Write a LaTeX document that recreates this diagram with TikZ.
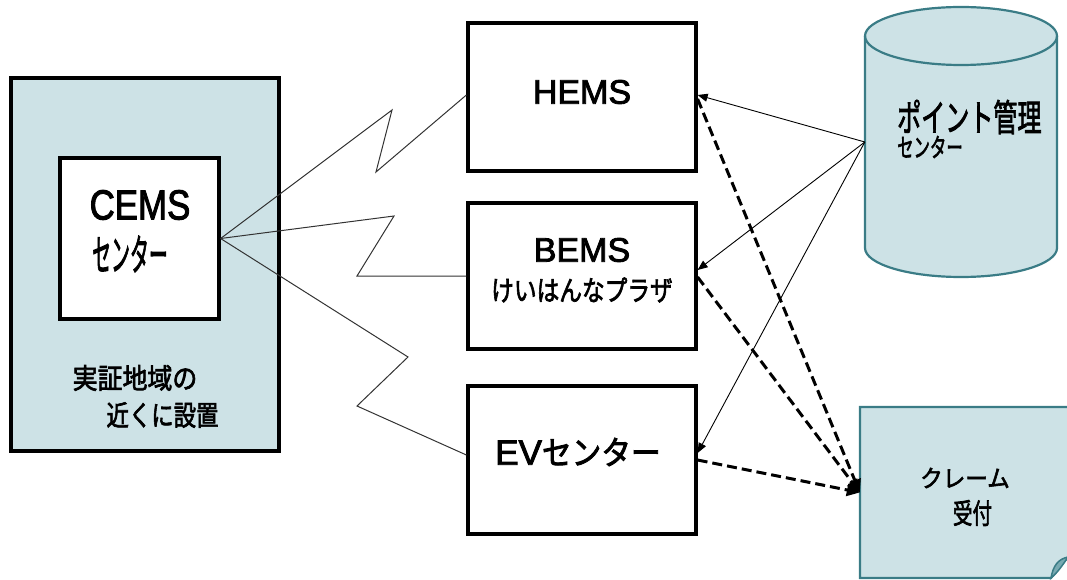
\documentclass[tikz,border=0pt]{standalone}
\usepackage{fontspec}
\setmainfont{Liberation Sans}[FakeBold=2.5]
\newfontfamily\jp{Noto Sans CJK JP}[FakeBold=2.5]
\usetikzlibrary{arrows.meta}
\definecolor{lb}{RGB}{205,226,230}
\definecolor{edgeteal}{RGB}{58,124,134}
\definecolor{flapc}{RGB}{120,170,178}
\begin{document}
\begin{tikzpicture}[x=1pt,y=-1pt,
  box/.style={draw=black,line width=3.2pt,fill=white,inner sep=0pt},
  area/.style={draw=black,line width=3.2pt,fill=lb,inner sep=0pt},
  bolt/.style={draw=black!80,line width=1pt,line join=miter},
  arr/.style={draw=black,line width=0.9pt,-{Triangle[length=10pt,width=8pt]}},
  darr/.style={draw=black,line width=3pt,dash pattern=on 10pt off 5pt,-{Triangle[length=13pt,width=12pt]}},
  lbl/.style={inner sep=0pt}
]
\useasboundingbox (0,0) rectangle (1067,580);
\clip (0,0) rectangle (1067,580);

% left area and CEMS
\node[area,minimum width=268pt,minimum height=373pt] (area) at (145,264.5) {};
\node[box,minimum width=159pt,minimum height=161pt] (cems) at (139.5,238.5) {};
\node[lbl] (cemsA) at (140,205) {\fontsize{42}{42}\selectfont\scalebox{0.83}[1]{CEMS}};
\node[lbl] (cemsB) at (130,254) {\jp\fontsize{43}{43}\selectfont\scalebox{0.44}[1]{センター}};
\node[lbl] (areaA) at (135,378) {\jp\fontsize{28}{28}\selectfont\scalebox{0.89}[1]{実証地域の}};
\node[lbl] (areaB) at (162.5,415) {\jp\fontsize{28}{28}\selectfont\scalebox{0.8}[1]{近くに設置}};

% middle boxes
\node[box,minimum width=228pt,minimum height=148pt] (hems) at (582,97) {};
\node[lbl] (hemsT) at (582,92) {\fontsize{34}{34}\selectfont HEMS};
\node[box,minimum width=228pt,minimum height=146pt] (bems) at (582,276) {};
\node[lbl] (bemsT) at (582,250) {\fontsize{34}{34}\selectfont BEMS};
\node[lbl] (bemsU) at (582,290) {\jp\fontsize{28}{28}\selectfont\scalebox{0.81}[1]{けいはんなプラザ}};
\node[box,minimum width=228pt,minimum height=148pt] (ev) at (582,460) {};
\node[lbl] (evT) at (578,452) {\fontsize{35}{35}\selectfont EV{\jp\fontsize{33}{33}\selectfont\scalebox{0.9}[1]{センター}}};

% cylinder (point management center)
\path[fill=lb,draw=edgeteal,line width=2.2pt]
  (865,36) -- (865,248) arc[start angle=180,end angle=360,x radius=96pt,y radius=29pt]
  -- (1057,36) arc[start angle=0,end angle=180,x radius=96pt,y radius=29pt] -- cycle;
\draw[edgeteal,line width=2.2pt] (865,36) arc[start angle=180,end angle=360,x radius=96pt,y radius=29pt];
\node[minimum width=192pt,minimum height=270pt,inner sep=0pt] (pm) at (961,142) {};
\node[lbl,anchor=west] (pmA) at (897,117) {\jp\fontsize{37}{37}\selectfont\scalebox{0.65}[1]{ポイント管理}};
\node[lbl,anchor=west] (pmB) at (897,147) {\jp\fontsize{26}{26}\selectfont\scalebox{0.63}[1]{センター}};

% note (claim desk)
\path[fill=lb,draw=edgeteal,line width=2.2pt]
  (860,407) -- (1075,407) -- (1075,556) -- (1068,557) -- (1051,578) -- (860,578) -- cycle;
\path[fill=flapc,draw=edgeteal,line width=1.5pt]
  (1051,578) .. controls (1053,566) and (1058,559) .. (1068,557) .. controls (1062,566) and (1058,572) .. (1051,578) -- cycle;
\node[minimum width=197pt,minimum height=171pt,inner sep=0pt] (claim) at (958.5,492.5) {};
\node[lbl] (claimA) at (965,478) {\jp\fontsize{24}{24}\selectfont\scalebox{0.94}[1]{クレーム}};
\node[lbl] (claimB) at (972.5,513) {\jp\fontsize{28}{28}\selectfont\scalebox{0.7}[1]{受付}};

% wireless (lightning) links
\coordinate (h1) at (392,110); \coordinate (h2) at (376,172);
\coordinate (b1) at (394,216); \coordinate (b2) at (357,276);
\coordinate (e1) at (408,357); \coordinate (e2) at (357,406);
\draw[bolt] (cems.east) -- (h1) -- (h2) -- ([yshift=2pt]hems.west);
\draw[bolt] (cems.east) -- (b1) -- (b2) -- (bems.west);
\draw[bolt] (cems.east) -- (e1) -- (e2) -- ([yshift=5pt]ev.west);

% point management arrows
\draw[arr] (pm.west) -- ([yshift=2pt]hems.east);
\draw[arr] (pm.west) -- ([yshift=6pt]bems.east);
\draw[arr] (pm.west) -- ([yshift=7pt]ev.east);

% claim (dashed) arrows
\draw[darr] ([yshift=-2pt]hems.east) -- (claim.west);
\draw[darr] ([yshift=-1pt]bems.east) -- (claim.west);
\draw[darr] (ev.east) -- (claim.west);
\end{tikzpicture}
\end{document}
